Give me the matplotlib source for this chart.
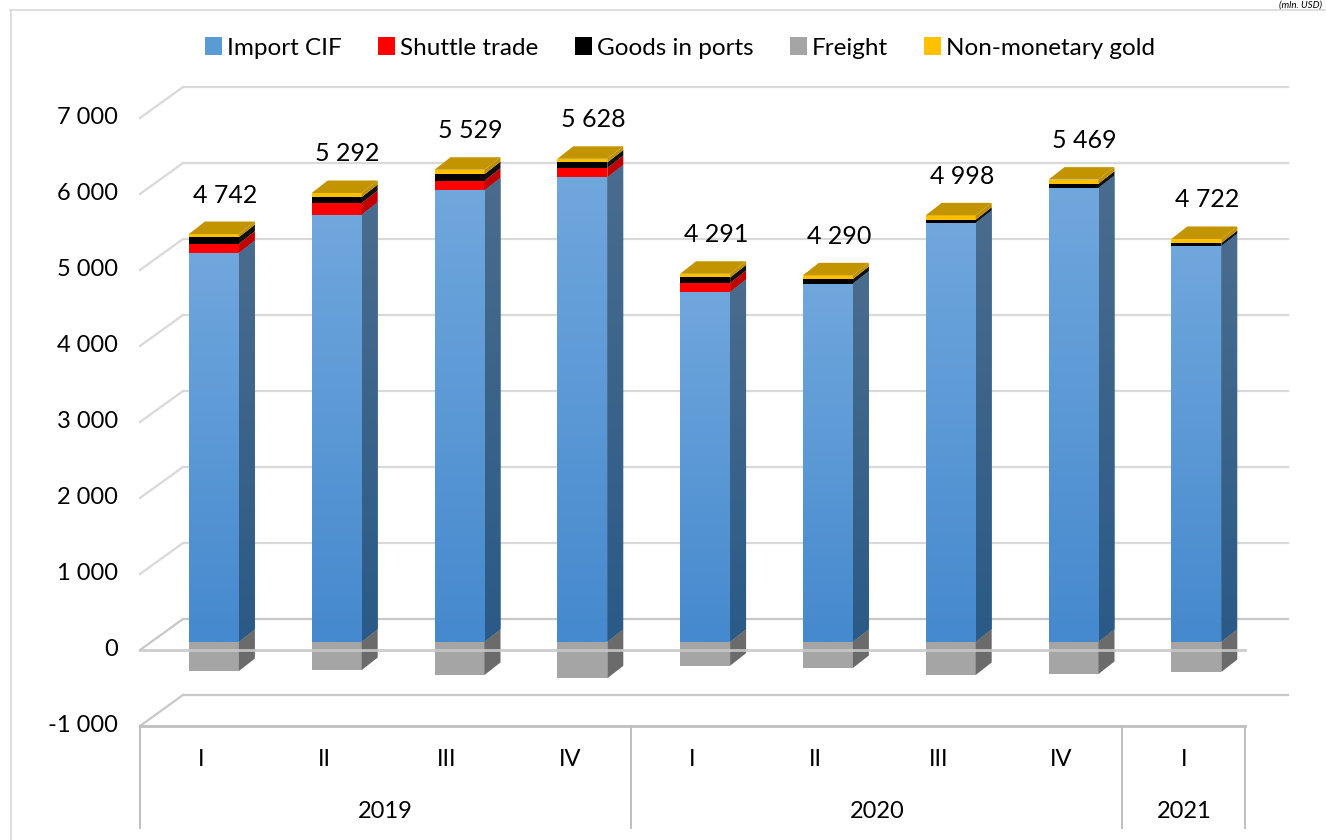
import numpy as np
import matplotlib
matplotlib.use("Agg")
import matplotlib.pyplot as plt
from matplotlib.patches import Polygon, Patch
from matplotlib.lines import Line2D
from matplotlib.colors import LinearSegmentedColormap

plt.rcParams['font.family'] = ['Lato', 'DejaVu Sans']

# ---------------- data ----------------
quarters = ['I', 'II', 'III', 'IV', 'I', 'II', 'III', 'IV', 'I']
years = ['2019', '2020', '2021']
year_span = [4, 4, 1]
import_cif = [5114, 5618, 5938, 6109, 4601, 4711, 5509, 5970, 5204]
shuttle = [122, 154, 127, 123, 118, 0, 0, 0, 0]
goods = [88, 79, 88, 74, 74, 62, 44, 57, 42]
gold = [40, 53, 57, 48, 48, 48, 57, 53, 53]
freight = [-386, -373, -438, -482, -316, -346, -438, -425, -399]
totals = [4742, 5292, 5529, 5628, 4291, 4290, 4998, 5469, 4722]
yticks = [-1000, 0, 1000, 2000, 3000, 4000, 5000, 6000, 7000]
series_names = ['Import CIF', 'Shuttle trade', 'Goods in ports', 'Freight', 'Non-monetary gold']

# ---------------- geometry (pixel helpers) ----------------
W, H = 1326, 840
CAT_PX, CAT0_PX = 122.8, 201.4       # px per category, px of first category centre
VAL_PX, ZERO_PX = 0.076, 650.0       # px per value unit, px of zero line (front)
PX = 1.0 / CAT_PX                    # x data units per pixel
PY = 1.0 / VAL_PX                    # y data units per pixel

fig = plt.figure(figsize=(W / 100, H / 100), dpi=100)
ax = fig.add_axes([0, 0, 1, 1])
ax.set_xlim((0 - CAT0_PX) * PX, (W - CAT0_PX) * PX)
ax.set_ylim((ZERO_PX - H) * PY, ZERO_PX * PY)
ax.axis('off')

n = len(quarters)
xs = np.arange(n)
ox, oy = 12.5 * PX, 8.3 * PY          # bar depth offset from front plane
bw = 50 * PX                          # bar width
sdx, sdy = 16 * PX, 12.5 * PY         # bar depth
wdx, wdy = 43 * PX, 31 * PY           # wall depth
xl, xr = -0.5, n - 0.5

# ---------------- walls / gridlines ----------------
grid_c = '#D9D9D9'
for v in yticks:
    lw = 1.6
    c = '#C8C8C8' if v in (0, -1000) else grid_c
    ax.plot([xl, xl + wdx], [v, v + wdy], color=c, lw=lw, zorder=1)
    ax.plot([xl + wdx, xr + wdx], [v + wdy, v + wdy], color=c, lw=lw, zorder=1)
    ax.text(xl - 22 * PX, v, f"{v:,}".replace(',', ' '), ha='right', va='center',
            fontsize=17, color='#000000')
# front floor line and category axis line
ax.plot([xl, xr], [0, 0], color='#C8C8C8', lw=2.0, zorder=20, alpha=0.9)
ax.plot([xl, xr], [-1000, -1000], color='#BFBFBF', lw=2.0, zorder=5)

# ---------------- bars ----------------
blue_front = LinearSegmentedColormap.from_list('bf', ['#4589CE', '#70A7DD'])
blue_side = LinearSegmentedColormap.from_list('bs', ['#2A5A87', '#4A6C8E'])
grad = np.linspace(0, 1, 200).reshape(-1, 1)

x0s = xs + ox - bw / 2
x1s = xs + ox + bw / 2

def side(x1, ylo, yhi, color, z=6):
    poly = Polygon([(x1, ylo), (x1 + sdx, ylo + sdy), (x1 + sdx, yhi + sdy), (x1, yhi)],
                   closed=True, facecolor=color, edgecolor='none', zorder=z)
    ax.add_patch(poly)
    return poly

# Import CIF
bars = ax.bar(xs + ox, import_cif, width=bw, bottom=oy, color='#5B9BD5', zorder=6, linewidth=0)
for i, b in enumerate(bars):
    im = ax.imshow(grad, cmap=blue_front, origin='lower', aspect='auto',
                   extent=[x0s[i], x1s[i], oy, oy + import_cif[i]], zorder=7)
    im.set_clip_path(b)
    sp = side(x1s[i], oy, oy + import_cif[i], '#3B6A96')
    im2 = ax.imshow(grad, cmap=blue_side, origin='lower', aspect='auto',
                    extent=[x1s[i], x1s[i] + sdx, oy, oy + import_cif[i] + sdy], zorder=7)
    im2.set_clip_path(sp)

bottom = np.array(import_cif, dtype=float)
stack = [(shuttle, '#FF0000', '#C00000'),
         (goods, '#000000', '#111111'),
         (gold, '#FFC000', '#C09000')]
for vals, fc, scol in stack:
    ax.bar(xs + ox, vals, width=bw, bottom=bottom + oy, color=fc, zorder=6, linewidth=0)
    for i in range(n):
        if vals[i] > 0:
            side(x1s[i], bottom[i] + oy, bottom[i] + vals[i] + oy, scol)
    bottom = bottom + np.array(vals)

# top faces
for i in range(n):
    t = bottom[i] + oy
    ax.add_patch(Polygon([(x0s[i], t), (x1s[i], t), (x1s[i] + sdx, t + sdy), (x0s[i] + sdx, t + sdy)],
                         closed=True, facecolor='#C29500', edgecolor='none', zorder=8))

# Freight (negative)
ax.bar(xs + ox, freight, width=bw, bottom=oy, color='#A5A5A5', zorder=6, linewidth=0)
for i in range(n):
    side(x1s[i], oy + freight[i], oy, '#6B6B6B')

# data labels
for i in range(n):
    ax.text(xs[i] + ox + 11 * PX, bottom[i] + oy + 39 * PY, f"{totals[i]:,}".replace(',', ' '),
            ha='center', va='center', fontsize=18, color='#000000', zorder=10)

# ---------------- category axis ----------------
ybot = (ZERO_PX - 828) * PY
for i, q in enumerate(quarters):
    ax.text(xs[i], (ZERO_PX - 760) * PY, q, ha='center', va='center', fontsize=17)
edges = [xl]
start = xl
for y, span in zip(years, year_span):
    ax.text(start + span / 2, (ZERO_PX - 811) * PY, y, ha='center', va='center', fontsize=17)
    start += span
    edges.append(start)
for e in edges:
    ax.plot([e, e], [-1000, ybot], color='#BFBFBF', lw=1.4, zorder=5)

# ---------------- legend ----------------
handles = [Patch(facecolor='#5B9BD5'), Patch(facecolor='#FF0000'), Patch(facecolor='#000000'),
           Patch(facecolor='#A5A5A5'), Patch(facecolor='#FFC000')]
fig.legend(handles, series_names, loc='center', bbox_to_anchor=(680 / W, 1 - 48 / H), ncol=5,
           frameon=False, fontsize=17.5, handlelength=0.7, handleheight=0.75,
           handletextpad=0.2, columnspacing=1.5)

# chart border and unit note
fig.add_artist(Line2D([10 / W, 1], [1 - 9.5 / H, 1 - 9.5 / H], color='#D9D9D9', lw=1.2))
fig.add_artist(Line2D([10.5 / W, 10.5 / W], [0, 1 - 9.5 / H], color='#D9D9D9', lw=1.2))
fig.text(1322 / W, 1 - 0.5 / H, '(mln. USD)', ha='right', va='top', fontsize=7, style='italic')

fig.savefig('out.png', dpi=100)
